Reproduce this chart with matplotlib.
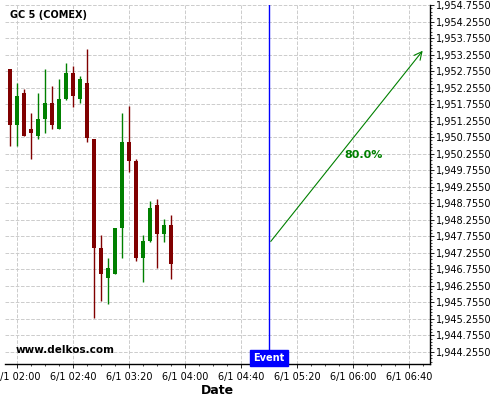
import numpy as np
import pandas as pd
import matplotlib
matplotlib.use('Agg')
import matplotlib.pyplot as plt
import matplotlib.dates as mdates
from matplotlib.ticker import FuncFormatter, FixedLocator

# 5-minute candles, 6/1 01:55 .. 03:50
times = pd.date_range('2023-06-01 01:55', periods=24, freq='5min')
opens = [1952.83, 1951.11, 1952.10, 1951.01, 1950.80, 1951.32, 1951.80, 1951.01,
         1951.92, 1952.71, 1951.92, 1952.40, 1950.71, 1947.40, 1946.49, 1946.60,
         1948.00, 1950.62, 1950.02, 1947.10, 1947.60, 1948.69, 1947.82, 1948.08]
highs = [1952.83, 1952.39, 1952.20, 1951.50, 1952.09, 1952.82, 1952.31, 1952.52,
         1953.00, 1952.91, 1952.62, 1953.42, 1950.71, 1947.80, 1947.08, 1947.99,
         1951.49, 1951.70, 1950.09, 1947.80, 1948.81, 1948.89, 1948.29, 1948.39]
lows = [1950.49, 1950.49, 1950.78, 1950.10, 1950.69, 1950.88, 1950.99, 1950.99,
        1951.89, 1951.68, 1951.79, 1950.60, 1945.29, 1945.78, 1945.70, 1946.60,
        1947.08, 1949.71, 1946.99, 1946.37, 1947.57, 1946.78, 1947.57, 1946.47]
closes = [1951.11, 1952.01, 1950.80, 1950.89, 1951.32, 1951.80, 1951.11, 1951.92,
          1952.71, 1952.01, 1952.52, 1950.72, 1947.40, 1946.61, 1946.78, 1947.99,
          1950.62, 1950.02, 1947.10, 1947.60, 1948.60, 1947.82, 1948.08, 1946.91]

event_time = pd.Timestamp('2023-06-01 05:00')
arrow_start = (pd.Timestamp('2023-06-01 05:00'), 1947.53)
arrow_end = (pd.Timestamp('2023-06-01 06:51'), 1953.44)
pct_label = '80.0%'
pct_pos = (pd.Timestamp('2023-06-01 05:54'), 1950.23)

x_min = pd.Timestamp('2023-06-01 01:51:25')
x_max = pd.Timestamp('2023-06-01 06:55:00')
y_min, y_max = 1943.883, 1954.76

fig = plt.figure(figsize=(5, 4), dpi=100)
ax = fig.add_axes([0.01, 0.09, 0.85, 0.8975])

red = '#800000'
green = '#008000'
xs = mdates.date2num(times)
body_w = 3.2 / (24 * 60)
for x, o, h, l, c in zip(xs, opens, highs, lows, closes):
    col = green if c >= o else red
    ax.vlines(x, l, h, color=col, linewidth=1.0, zorder=3)
    ax.bar(x, max(abs(c - o), 0.03), bottom=min(o, c), width=body_w, color=col,
           linewidth=0, zorder=4)

ax.axvline(mdates.date2num(event_time), color='#0000ff', linewidth=1.0, zorder=5)
ax.annotate('', xy=(mdates.date2num(arrow_end[0]), arrow_end[1]),
            xytext=(mdates.date2num(arrow_start[0]), arrow_start[1]),
            arrowprops=dict(arrowstyle='->', color=green, lw=0.8,
                            mutation_scale=14), zorder=5)
ax.text(mdates.date2num(pct_pos[0]), pct_pos[1], pct_label, color=green,
        fontsize=8, fontweight='bold', va='center', ha='left')

ax.text(mdates.date2num(event_time), y_min + 0.03, 'Event', color='white',
        fontsize=7, fontweight='bold', ha='center', va='bottom', zorder=6,
        bbox=dict(boxstyle='square,pad=0.3', facecolor='#0000ff',
                  edgecolor='#0000ff'))

ax.text(0.012, 0.985, 'GC 5 (COMEX)', transform=ax.transAxes, fontsize=7,
        fontweight='bold', va='top', ha='left')
ax.text(0.024, 0.025, 'www.delkos.com', transform=ax.transAxes, fontsize=7.5,
        fontweight='bold', va='bottom', ha='left')

ax.set_xlim(mdates.date2num(x_min), mdates.date2num(x_max))
ax.set_ylim(y_min, y_max)

ax.xaxis.set_major_locator(FixedLocator(mdates.date2num(
    pd.date_range('2023-06-01 02:00', '2023-06-01 06:40', freq='40min'))))
ax.xaxis.set_minor_locator(mdates.MinuteLocator(byminute=range(0, 60, 10)))
ax.xaxis.set_major_formatter(mdates.DateFormatter('%-m/%-d %H:%M'))

ax.yaxis.tick_right()
ax.yaxis.set_major_locator(FixedLocator(np.arange(1944.255, 1954.8, 0.5)))
ax.yaxis.set_minor_locator(FixedLocator(np.arange(1943.955, 1954.8, 0.1)))
ax.yaxis.set_major_formatter(FuncFormatter(lambda v, p: f'{v:,.4f}'))

ax.tick_params(axis='both', which='major', labelsize=7, length=3, width=0.6)
ax.tick_params(axis='both', which='minor', length=1.5, width=0.5)
ax.tick_params(axis='y', pad=1)
ax.tick_params(axis='x', pad=3)

ax.grid(True, which='major', color='#cccccc', linestyle='--', linewidth=0.7)
ax.set_axisbelow(True)
for s in ['top', 'left']:
    ax.spines[s].set_visible(False)
ax.spines['right'].set_linewidth(1)
ax.spines['bottom'].set_linewidth(1)

ax.set_xlabel('Date', fontsize=9, fontweight='bold', labelpad=1)

fig.savefig('out.png', dpi=100)
